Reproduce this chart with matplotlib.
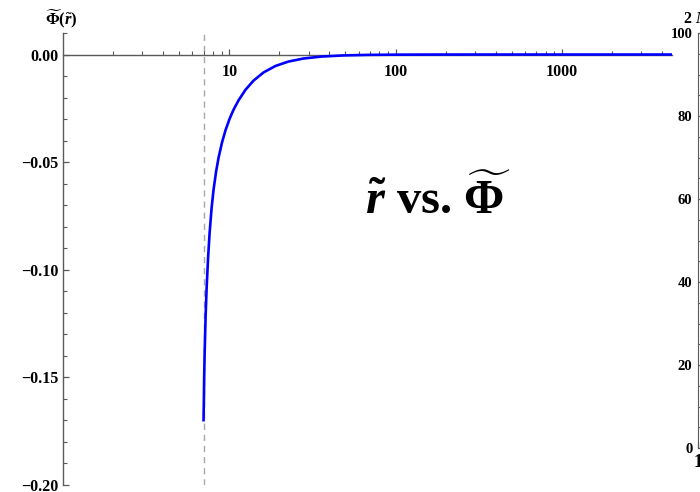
import matplotlib
matplotlib.use("Agg")
import matplotlib.pyplot as plt
from matplotlib.ticker import FixedLocator, NullFormatter, FixedFormatter

plt.rcParams['font.family'] = ['Liberation Serif', 'DejaVu Serif']
plt.rcParams['font.weight'] = 'bold'
plt.rcParams['mathtext.fontset'] = 'custom'
plt.rcParams['mathtext.rm'] = 'Liberation Serif:bold'
plt.rcParams['mathtext.it'] = 'Liberation Serif:italic:bold'
plt.rcParams['mathtext.bf'] = 'Liberation Serif:bold'

# potential profile Phi(r), sampled along the curve
r_vals = [7.0, 7.035, 7.059, 7.106, 7.207, 7.306, 7.459, 7.615, 7.828,
          8.048, 8.332, 8.624, 9.053, 9.501, 10.04, 10.61, 11.37, 12.53,
          13.99, 16.07, 18.97, 22.71, 27.94, 35.84, 48.59, 68.64, 103.9,
          168.7, 300.0, 1000.0, 4600.0]
phi_vals = [-0.1705, -0.1606, -0.1514, -0.1396, -0.1214, -0.1087, -0.0943,
            -0.0830, -0.0714, -0.0627, -0.0544, -0.0479, -0.0407, -0.0351,
            -0.0299, -0.02564, -0.02128, -0.01635, -0.01213, -0.00833,
            -0.00531, -0.00326, -0.00186, -0.000948, -0.000415, -0.000163,
            -0.000053, -0.000014, 0.0, 0.0, 0.0]
r_min = 7.0

y_major = [-0.20, -0.15, -0.10, -0.05, 0.00]
y_labels = ['\u22120.20', '\u22120.15', '\u22120.10', '\u22120.05', '0.00']
x_major = [10, 100, 1000]
x_labels = ['10', '100', '1000']

side_ticks = [0, 20, 40, 60, 80, 100]

W, H = 700, 492
fig = plt.figure(figsize=(W / 100, H / 100), dpi=100)

def fx(px):
    return px / W

def fy(py):
    return 1 - py / H

axis_col = '#5a5a5a'

ax = fig.add_axes([fx(63), fy(485), fx(672) - fx(63), fy(33) - fy(485)])
ax.set_xscale('log')
ax.set_xlim(1, 4600)
ax.set_ylim(-0.20, 0.01)

ax.axvline(r_min, color='#a8a8a8', lw=1.0, ls=(0, (4.5, 3.5)), zorder=1)
ax.plot(r_vals, phi_vals, color='#0000ff', lw=1.9, zorder=3,
        solid_capstyle='butt', solid_joinstyle='round')

for s in ['top', 'right']:
    ax.spines[s].set_visible(False)
ax.spines['bottom'].set_position(('data', 0))
ax.spines['bottom'].set_color(axis_col)
ax.spines['left'].set_color(axis_col)
ax.spines['bottom'].set_linewidth(1.0)
ax.spines['left'].set_linewidth(1.0)

ax.xaxis.set_major_locator(FixedLocator(x_major))
ax.xaxis.set_major_formatter(FixedFormatter(x_labels))
minor_x = [m * 10 ** d for d in range(0, 4) for m in range(2, 10)
           if m * 10 ** d < 4600]
ax.xaxis.set_minor_locator(FixedLocator(minor_x))
ax.xaxis.set_minor_formatter(NullFormatter())

ax.yaxis.set_major_locator(FixedLocator(y_major))
ax.yaxis.set_major_formatter(FixedFormatter(y_labels))
minor_y = [round(-0.20 + 0.01 * i, 2) for i in range(22)
           if round(-0.20 + 0.01 * i, 2) not in y_major]
ax.yaxis.set_minor_locator(FixedLocator(minor_y))

ax.tick_params(axis='both', which='major', direction='in', length=4.5,
               width=0.9, color=axis_col, labelsize=11.5, pad=3)
ax.tick_params(axis='both', which='minor', direction='in', length=2.6,
               width=0.8, color=axis_col)
ax.tick_params(axis='x', which='major', pad=7)
for lab in ax.get_xticklabels() + ax.get_yticklabels():
    lab.set_fontweight('bold')

fig.text(fx(45), fy(24), r'$\widetilde{\Phi}(\tilde{r})$', fontsize=12,
         ha='left', va='baseline')

ax.text(0.616, 0.5996, r'$\tilde{r}$ vs. $\widetilde{\Phi}$',
        transform=ax.transAxes, fontsize=35, fontweight='bold',
        ha='center', va='baseline')

# neighbouring panel, mostly outside the frame
ax2 = fig.add_axes([fx(698), fy(448), 0.3, fy(33) - fy(448)])
ax2.set_ylim(0, 100)
ax2.set_xlim(1, 10)
for s in ['top', 'right']:
    ax2.spines[s].set_visible(False)
ax2.spines['left'].set_color(axis_col)
ax2.spines['bottom'].set_color(axis_col)
ax2.yaxis.set_major_locator(FixedLocator(side_ticks))
ax2.yaxis.set_minor_locator(FixedLocator([v for v in range(5, 100, 5)
                                          if v % 20 != 0]))
ax2.xaxis.set_major_locator(FixedLocator([1]))
ax2.tick_params(axis='both', which='major', direction='in', length=4.5,
                width=0.9, color=axis_col, labelsize=10.5, pad=4)
ax2.tick_params(axis='both', which='minor', direction='in', length=2.6,
                width=0.8, color=axis_col)
ax2.tick_params(axis='x', which='major', labelsize=13, pad=4)
fig.text(fx(683), fy(19), r'2 $M$', fontsize=11.5, ha='left', va='center')

fig.savefig('out.png', dpi=100, facecolor='white')
